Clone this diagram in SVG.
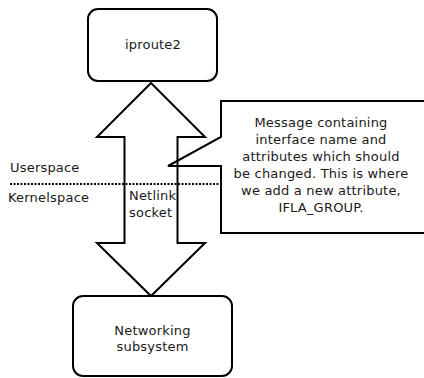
<svg xmlns="http://www.w3.org/2000/svg" width="424" height="378" viewBox="0 0 424 378">
<style>
.shape{fill:none;stroke:#000;stroke-width:2;stroke-linejoin:miter}
.box{fill:#fff;stroke:#000;stroke-width:2}
text{font-family:"DejaVu Sans",sans-serif;font-size:13px;fill:#1a1a1a;letter-spacing:0.2px}
.c{text-anchor:middle}
</style>
<rect width="424" height="378" fill="#fff"/>
<g id="connectors">
<line x1="10" y1="184" x2="220" y2="184" stroke="#000" stroke-width="2" stroke-dasharray="2,1.5"/>
<polygon id="netlink-arrow" class="shape" points="151,83 205,137 177.5,137 177.5,243 205,243 151,296 97,243 124.5,243 124.5,137 97,137"/>
<text x="129" y="200">Netlink</text>
<text x="129" y="217">socket</text>
</g>
<g id="iproute2">
<rect class="box" x="88" y="9" width="129" height="72" rx="10"/>
<text class="c" x="153" y="49">iproute2</text>
</g>
<g id="networking">
<rect class="box" x="73" y="296" width="159" height="80" rx="10"/>
<text class="c" x="152.5" y="335">Networking</text>
<text class="c" x="152.5" y="351">subsystem</text>
</g>
<g id="callout">
<path class="shape" d="M221,101 L430,101 L430,233 L221,233 L221,166 L168,166 L221,137 Z"/>
<text class="c" x="321" y="127">Message containing</text>
<text class="c" x="321" y="144">interface name and</text>
<text class="c" x="321" y="161">attributes which should</text>
<text class="c" x="321" y="178">be changed. This is where</text>
<text class="c" x="321" y="195">we add a new attribute,</text>
<text class="c" x="321" y="212">IFLA_GROUP.</text>
</g>
<g id="labels">
<text x="10" y="172">Userspace</text>
<text x="8" y="202">Kernelspace</text>
</g>
</svg>
